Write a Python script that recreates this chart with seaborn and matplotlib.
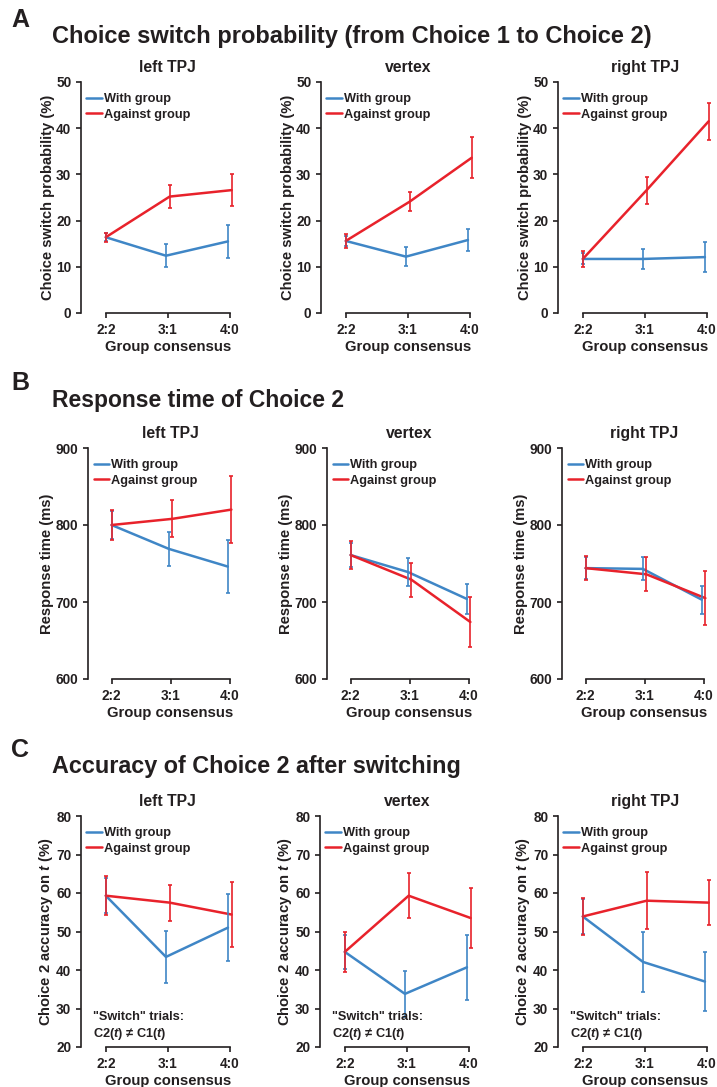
import numpy as np
import pandas as pd
import seaborn as sns
import matplotlib.pyplot as plt

# group consensus levels and TMS sites
consensus = ['2:2', '3:1', '4:0']
regions = ['left TPJ', 'vertex', 'right TPJ']
groups = ['With group', 'Against group']

# A: choice switch probability (%), mean and SEM per region
switch_with = [[16.4, 12.4, 15.5], [15.6, 12.2, 15.8], [11.7, 11.7, 12.1]]
switch_with_sem = [[0.9, 2.5, 3.6], [1.0, 2.0, 2.4], [1.2, 2.2, 3.3]]
switch_against = [[16.4, 25.2, 26.6], [15.6, 24.1, 33.6], [11.7, 26.6, 41.5]]
switch_against_sem = [[1.0, 2.4, 3.4], [1.5, 2.0, 4.4], [1.8, 2.9, 4.0]]

# B: response time of choice 2 (ms)
rt_with = [[800, 769, 746], [761, 739, 704], [744, 743, 703]]
rt_with_sem = [[18, 22, 34], [16, 18, 20], [14, 15, 18]]
rt_against = [[800, 808, 820], [761, 729, 674], [744, 736, 705]]
rt_against_sem = [[20, 24, 43], [18, 22, 33], [16, 22, 35]]

# C: accuracy of choice 2 after switching (%)
acc_with = [[59.3, 43.4, 51.0], [44.7, 33.8, 40.7], [53.9, 42.1, 37.0]]
acc_with_sem = [[4.5, 6.8, 8.7], [4.5, 6.0, 8.4], [4.5, 7.7, 7.6]]
acc_against = [[59.3, 57.5, 54.4], [44.7, 59.3, 53.5], [53.9, 58.0, 57.5]]
acc_against_sem = [[5.0, 4.7, 8.4], [5.1, 5.9, 7.7], [4.7, 7.4, 5.9]]

palette = {'With group': '#3f86c6', 'Against group': '#e8222b'}
ink = '#231f20'


def long_table(with_m, with_s, against_m, against_s):
    rows = []
    for r, region in enumerate(regions):
        for g, (m, s) in zip(groups, [(with_m, with_s), (against_m, against_s)]):
            for i, level in enumerate(consensus):
                # small horizontal dodge, none at 2:2 where both lines meet
                off = 0.0 if i == 0 else (-0.03 if g == 'With group' else 0.03)
                rows.append({'region': region, 'group': g, 'consensus': level,
                             'x': i + off, 'mean': m[r][i], 'sem': s[r][i]})
    return pd.DataFrame(rows)


sns.set_style('ticks')
plt.rcParams['font.family'] = ['Liberation Sans', 'DejaVu Sans']
plt.rcParams['font.weight'] = 'bold'
plt.rcParams['axes.labelweight'] = 'bold'
plt.rcParams['axes.titleweight'] = 'bold'
plt.rcParams['mathtext.fontset'] = 'custom'
plt.rcParams['mathtext.it'] = 'Liberation Sans:italic:bold'
plt.rcParams['mathtext.rm'] = 'Liberation Sans:bold'
plt.rcParams['text.color'] = ink
plt.rcParams['axes.labelcolor'] = ink
plt.rcParams['xtick.color'] = ink
plt.rcParams['ytick.color'] = ink

fig = plt.figure(figsize=(7.17, 10.87), dpi=100)
W, H = 717, 1087

panels = [
    dict(letter='A', title='Choice switch probability (from Choice 1 to Choice 2)',
         df=long_table(switch_with, switch_with_sem, switch_against, switch_against_sem),
         ylim=(0, 50), yticks=np.arange(0, 51, 10),
         ylabel='Choice switch probability (%)', head=17,
         lefts=[81, 321, 558], top=82, bottom=313, unit=62, letter_y=20, title_y=36),
    dict(letter='B', title='Response time of Choice 2',
         df=long_table(rt_with, rt_with_sem, rt_against, rt_against_sem),
         ylim=(600, 900), yticks=np.arange(600, 901, 100),
         ylabel='Response time (ms)', head=16.5,
         lefts=[88, 327, 562], top=448, bottom=679, unit=59, letter_y=383, title_y=400),
    dict(letter='C', title='Accuracy of Choice 2 after switching',
         df=long_table(acc_with, acc_with_sem, acc_against, acc_against_sem),
         ylim=(20, 80), yticks=np.arange(20, 81, 10),
         ylabel='Choice 2 accuracy on $t$ (%)', head=16.8,
         lefts=[81, 320, 558], top=816, bottom=1047, unit=62, letter_y=750, title_y=766),
]

for p in panels:
    fig.text(11 / W, 1 - p['letter_y'] / H, p['letter'], fontsize=18,
             fontweight='bold', va='center', ha='left')
    fig.text(52 / W, 1 - p['title_y'] / H, p['title'], fontsize=p['head'],
             fontweight='bold', va='center', ha='left')
    df = p['df']
    for r, region in enumerate(regions):
        x0 = p['lefts'][r]
        width = 2.8 * p['unit']
        ax = fig.add_axes([x0 / W, 1 - p['bottom'] / H, width / W,
                           (p['bottom'] - p['top']) / H])
        sub = df[df['region'] == region]
        sns.lineplot(data=sub, x='x', y='mean', hue='group', hue_order=groups,
                     palette=palette, linewidth=1.8, ax=ax, sort=True)
        for g in groups:
            d = sub[sub['group'] == g]
            ax.errorbar(d['x'], d['mean'], yerr=d['sem'], fmt='none',
                        ecolor=palette[g], elinewidth=1.2, capsize=1.3,
                        capthick=1.2, zorder=3)
        leg = ax.get_legend()
        handles = leg.legend_handles
        labels = [t.get_text() for t in leg.get_texts()]
        ax.legend(handles, labels, loc='upper left', bbox_to_anchor=(-0.02, 0.99),
                  frameon=False, handlelength=1.2,
                  handletextpad=0.15, labelspacing=0.28, borderpad=0.2,
                  prop={'weight': 'bold', 'size': 9.2})

        ax.set_xlim(-0.4, 2.4)
        ax.set_ylim(*p['ylim'])
        ax.set_xticks(range(len(consensus)))
        ax.set_xticklabels(consensus)
        ax.set_yticks(p['yticks'])
        ax.set_xlabel('Group consensus', fontsize=10.7, labelpad=2)
        ax.set_ylabel(p['ylabel'], fontsize=10.6, labelpad=1)
        ax.set_title(region, fontsize=11.3, pad=7)
        ax.tick_params(labelsize=9.8, width=1.2, length=3.5, pad=3.5, color=ink)
        for lab in ax.get_xticklabels() + ax.get_yticklabels():
            lab.set_fontweight('bold')
        sns.despine(ax=ax)
        ax.spines['bottom'].set_bounds(0, 2)
        ax.spines['left'].set_bounds(*p['ylim'])
        for s in ['left', 'bottom']:
            ax.spines[s].set_linewidth(1.2)
            ax.spines[s].set_color(ink)
        ax.patch.set_alpha(0)

        if p['letter'] == 'C':
            ax.text(-0.2, 21.4, '"Switch" trials:\nC2($t$) \u2260 C1($t$)',
                    fontsize=9.2, fontweight='bold', va='bottom', ha='left',
                    linespacing=1.25)

fig.savefig('out.png', dpi=100)
